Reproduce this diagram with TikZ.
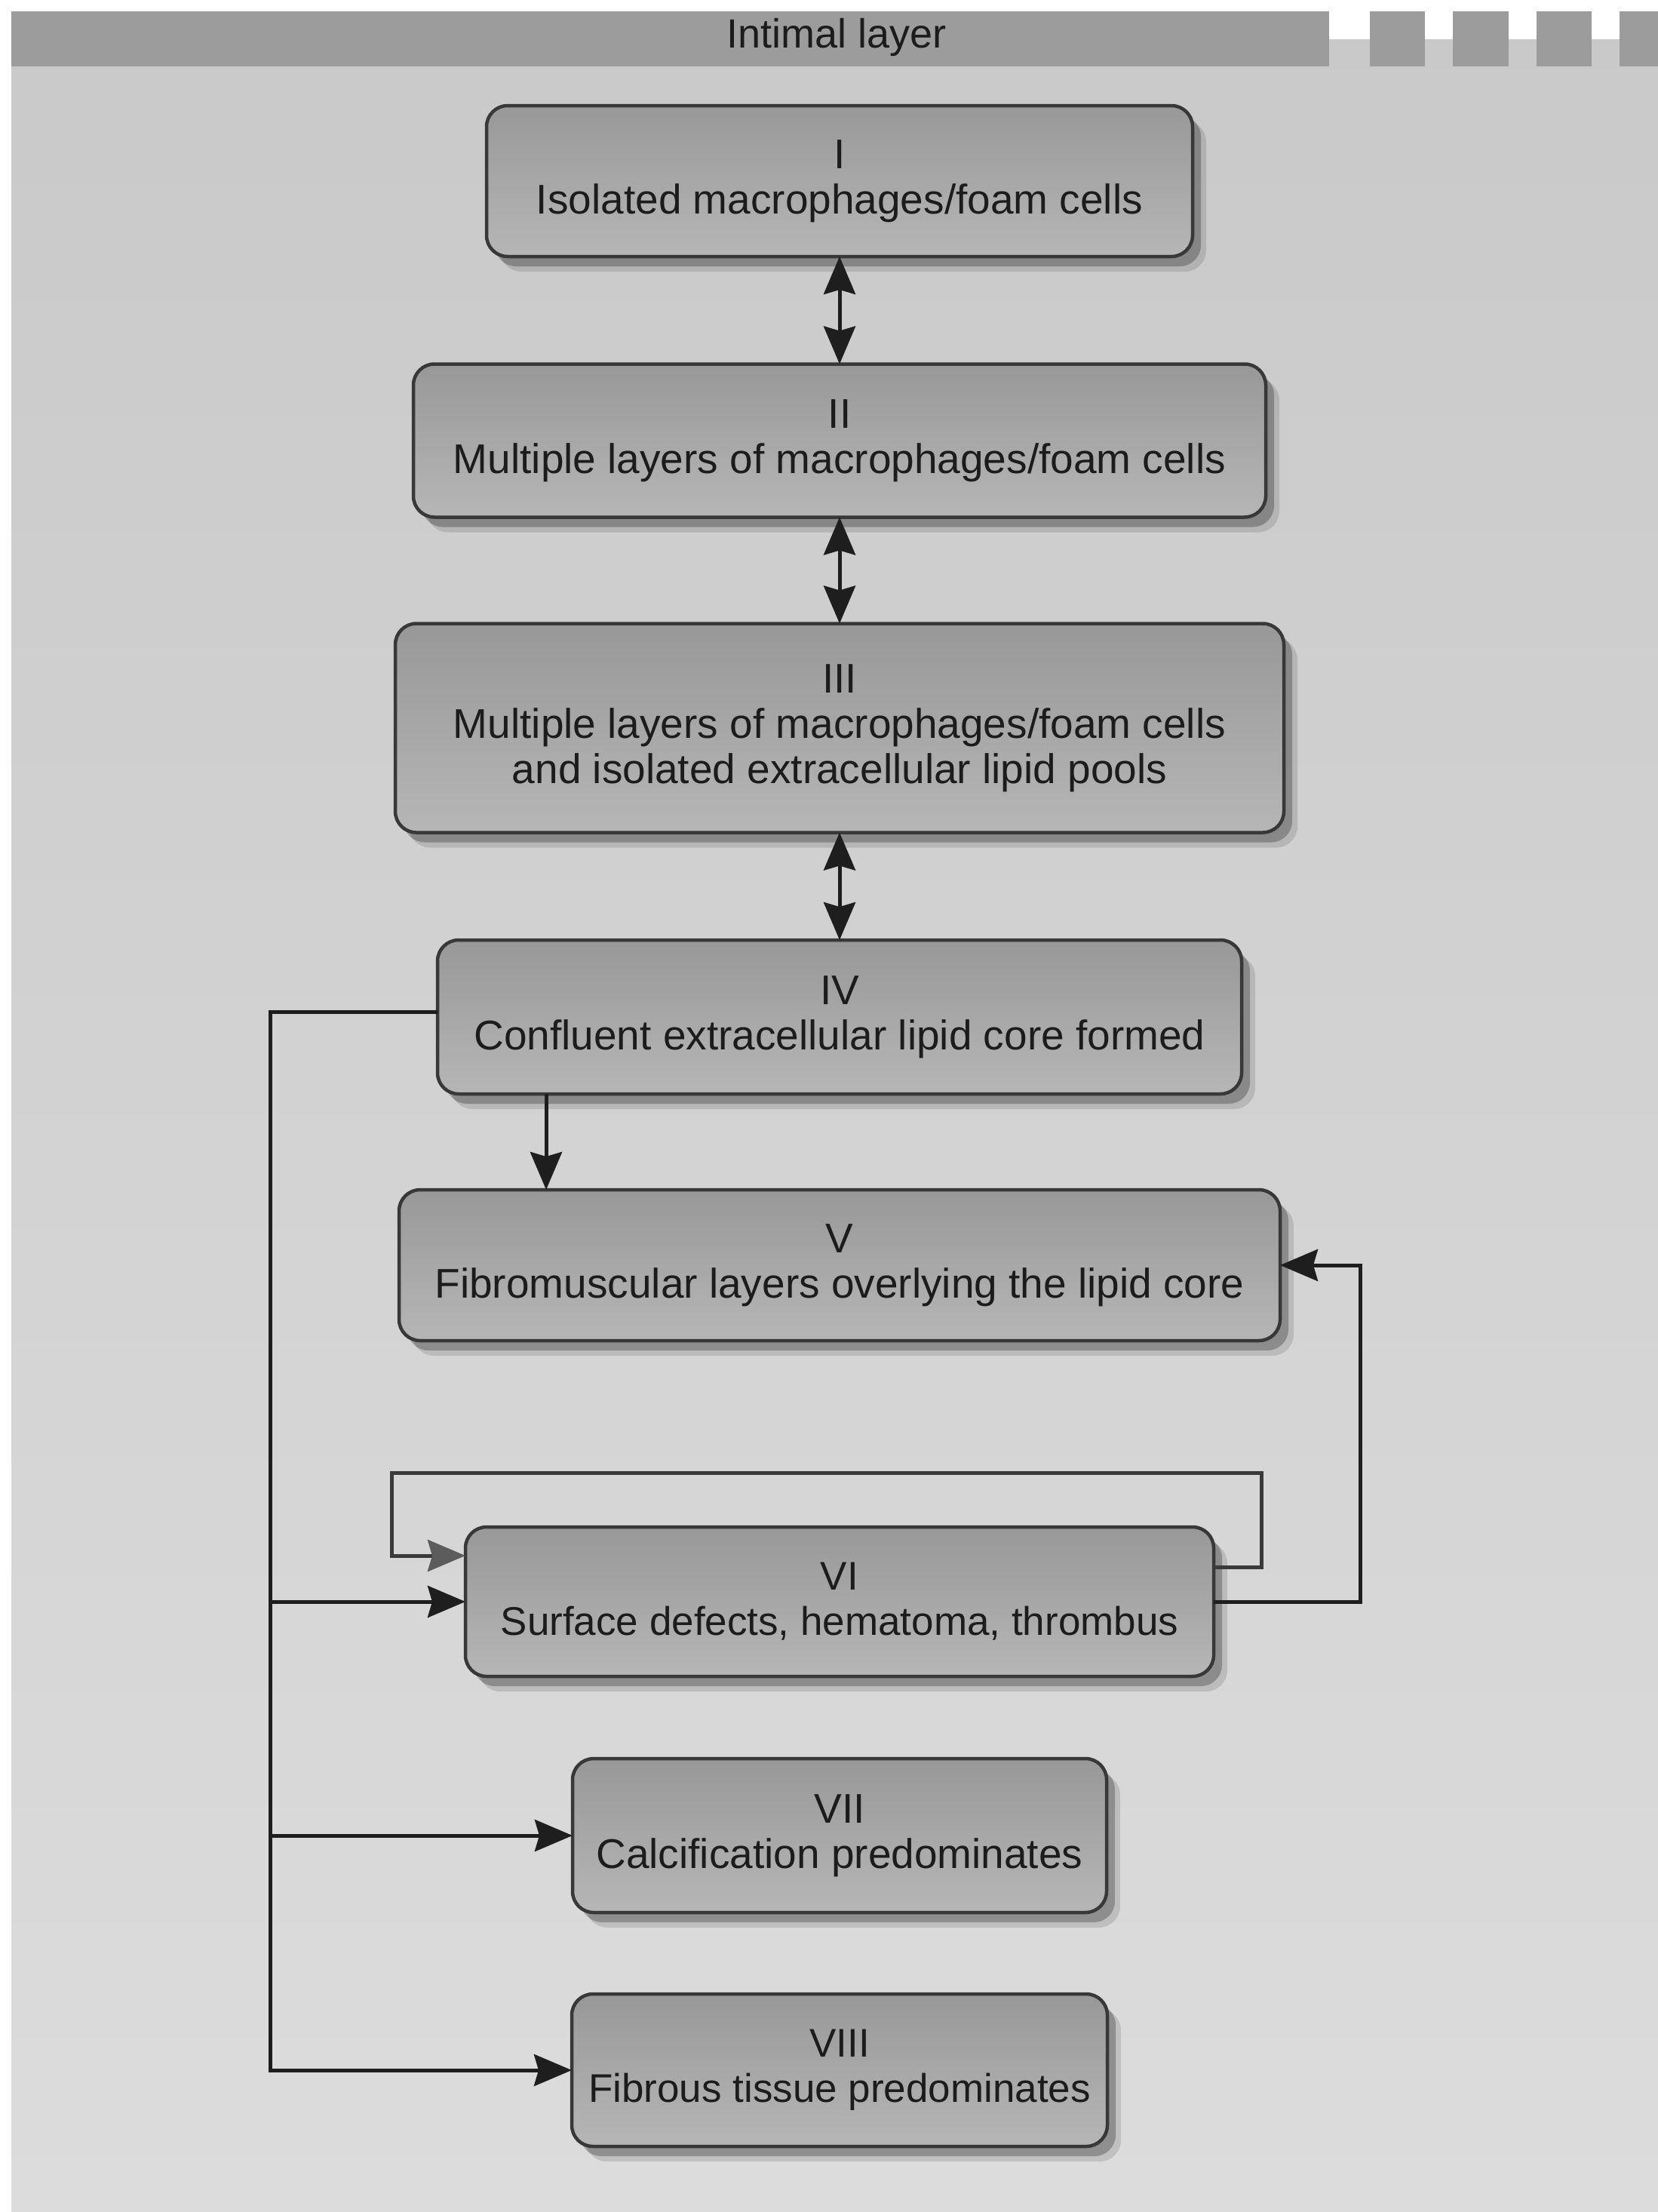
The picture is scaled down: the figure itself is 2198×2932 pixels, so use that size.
\documentclass[tikz,border=0pt]{standalone}
\usepackage{fontspec}
\setmainfont{Liberation Sans}
\usetikzlibrary{shadows,arrows.meta}
\definecolor{bgtop}{HTML}{C9C9C9}
\definecolor{bgbot}{HTML}{DCDCDC}
\definecolor{barc}{HTML}{9C9C9C}
\definecolor{boxtop}{HTML}{989898}
\definecolor{boxbot}{HTML}{B6B6B6}
\definecolor{boxline}{HTML}{383838}
\definecolor{txt}{HTML}{1C1C1C}
\definecolor{ln}{HTML}{1E1E1E}
\definecolor{loopln}{HTML}{3A3A3A}
\definecolor{loophead}{HTML}{5C5C5C}
\begin{document}
\begin{tikzpicture}[x=1pt,y=-1pt,
  box/.style={draw=boxline, line width=4.5pt, rounded corners=28pt,
    top color=boxtop, bottom color=boxbot, text=txt, align=center,
    inner sep=0pt, outer sep=0pt, font=\fontsize{55}{60}\selectfont,
    drop shadow={shadow xshift=18pt, shadow yshift=-20pt, opacity=.12, fill=black},
    drop shadow={shadow xshift=11pt, shadow yshift=-13pt, opacity=.25, fill=black}},
  narrowtxt/.style={font=\fontsize{53}{60}\selectfont},
  conn/.style={draw=ln, line width=5pt},
  tip/.tip={Stealth[length=50pt,width=42pt,inset=6pt]},
  arr/.style={conn, -tip},
  dbl/.style={conn, tip-tip},
  looparr/.style={draw=loopln, line width=5pt, -{Stealth[length=50pt,width=42pt,inset=6pt,color=loophead]}}
]
\useasboundingbox (0,0) rectangle (2198,2932);
% background
\fill[white] (0,0) rectangle (2198,2932);
\shade[top color=bgtop, bottom color=bgbot] (15,15) rectangle (2198,2932);
% top bar
\fill[barc] (15,15) rectangle (1762,88);
\fill[barc] (1816,15) rectangle (1889,88);
\fill[barc] (1926,15) rectangle (2000,88);
\fill[barc] (2037,15) rectangle (2110,88);
\fill[barc] (2147,15) rectangle (2198,88);
\fill[white] (1762,15) rectangle (1816,52);
\fill[white] (1889,15) rectangle (1926,52);
\fill[white] (2000,15) rectangle (2037,52);
\fill[white] (2110,15) rectangle (2147,52);
\node[text=txt, font=\fontsize{54}{60}\selectfont] (title) at (1109,50) {Intimal layer};

% boxes
\node[box, minimum width=936pt, minimum height=200pt] (I) at (1113,240)
  {I\\Isolated macrophages/foam cells};
\node[box, minimum width=1130pt, minimum height=203pt] (II) at (1113,584)
  {II\\Multiple layers of macrophages/foam cells};
\node[box, minimum width=1178pt, minimum height=277pt] (III) at (1113,965)
  {III\\Multiple layers of macrophages/foam cells\\and isolated extracellular lipid pools};
\node[box, minimum width=1066pt, minimum height=204pt] (IV) at (1113,1348)
  {IV\\Confluent extracellular lipid core formed};
\node[box, minimum width=1168pt, minimum height=200pt] (V) at (1113,1677)
  {V\\Fibromuscular layers overlying the lipid core};
\node[box, narrowtxt, minimum width=992pt, minimum height=198pt] (VI) at (1113,2123)
  {VI\\Surface defects, hematoma, thrombus};
\node[box, minimum width=708pt, minimum height=204pt] (VII) at (1113,2433)
  {VII\\Calcification predominates};
\node[box, narrowtxt, minimum width=710pt, minimum height=202pt] (VIII) at (1113,2744)
  {VIII\\Fibrous tissue predominates};

% vertical double arrows
\draw[dbl] (I.south) -- (II.north);
\draw[dbl] (II.south) -- (III.north);
\draw[dbl] (III.south) -- (IV.north);

% IV -> V
\coordinate (c45) at (724,0);
\draw[arr] (IV.south -| c45) -- (V.north -| c45);

% left trunk
\coordinate (T) at (358,0);
\draw[arr] ([yshift=7pt]IV.west) -| (T |- VIII.west) -- (VIII.west);
\draw[arr] (T |- VI.west) -- (VI.west);
\draw[arr] (T |- VII.west) -- (VII.west);

% VI self loop
\coordinate (L1) at (1672,1952);
\coordinate (L2) at (519,1952);
\draw[looparr] ([yshift=46pt]VI.east) -| (L1) -- (L2) |- ([yshift=61pt]VI.west);

% VI -> V
\coordinate (R) at (1803,0);
\draw[arr] (VI.east) -| (R |- V.east) -- (V.east);
\end{tikzpicture}
\end{document}
